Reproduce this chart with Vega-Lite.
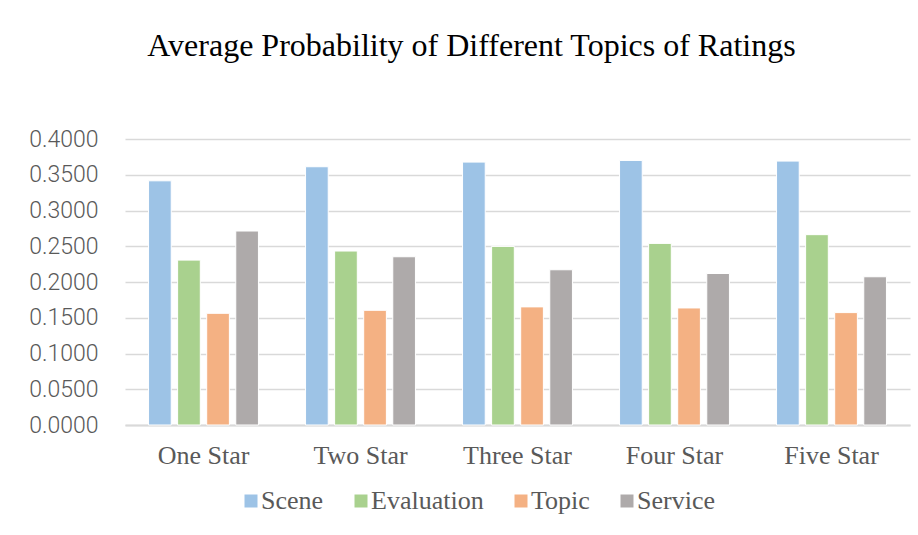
{
  "$schema": "https://vega.github.io/schema/vega-lite/v6.json",
  "autosize": {"type": "none"},
  "padding": {"left": 125, "top": 139, "right": 8, "bottom": 110},
  "width": 785,
  "height": 286,
  "background": "white",
  "title": {
    "text": "Average Probability of Different Topics of Ratings",
    "font": "Liberation Serif",
    "fontSize": 32,
    "fontWeight": "normal",
    "color": "#000000",
    "anchor": "middle",
    "dx": -46,
    "offset": 65
  },
  "data": {
    "values": [
      {"rating": "One Star", "topic": "Scene", "p": 0.3415},
      {"rating": "One Star", "topic": "Evaluation", "p": 0.2306},
      {"rating": "One Star", "topic": "Topic", "p": 0.1562},
      {"rating": "One Star", "topic": "Service", "p": 0.2713},
      {"rating": "Two Star", "topic": "Scene", "p": 0.3612},
      {"rating": "Two Star", "topic": "Evaluation", "p": 0.2433},
      {"rating": "Two Star", "topic": "Topic", "p": 0.1604},
      {"rating": "Two Star", "topic": "Service", "p": 0.2353},
      {"rating": "Three Star", "topic": "Scene", "p": 0.3677},
      {"rating": "Three Star", "topic": "Evaluation", "p": 0.2498},
      {"rating": "Three Star", "topic": "Topic", "p": 0.1652},
      {"rating": "Three Star", "topic": "Service", "p": 0.2171},
      {"rating": "Four Star", "topic": "Scene", "p": 0.3700},
      {"rating": "Four Star", "topic": "Evaluation", "p": 0.2540},
      {"rating": "Four Star", "topic": "Topic", "p": 0.1637},
      {"rating": "Four Star", "topic": "Service", "p": 0.2119},
      {"rating": "Five Star", "topic": "Scene", "p": 0.3691},
      {"rating": "Five Star", "topic": "Evaluation", "p": 0.2662},
      {"rating": "Five Star", "topic": "Topic", "p": 0.1572},
      {"rating": "Five Star", "topic": "Service", "p": 0.2073}
    ]
  },
  "mark": {"type": "bar", "stroke": "white", "strokeWidth": 1},
  "encoding": {
    "x": {
      "field": "rating",
      "type": "nominal",
      "sort": ["One Star", "Two Star", "Three Star", "Four Star", "Five Star"],
      "scale": {"paddingInner": 0.3, "paddingOuter": 0.15},
      "axis": {
        "title": null,
        "labelAngle": 0,
        "labelFont": "Liberation Serif",
        "labelFontSize": 26,
        "labelColor": "#595959",
        "labelPadding": 17,
        "ticks": false,
        "domainColor": "#D9D9D9",
        "domainWidth": 2
      }
    },
    "xOffset": {
      "field": "topic",
      "type": "nominal",
      "sort": ["Scene", "Evaluation", "Topic", "Service"],
      "scale": {"paddingInner": 0.22, "paddingOuter": 0}
    },
    "y": {
      "field": "p",
      "type": "quantitative",
      "scale": {"domain": [0, 0.4]},
      "axis": {
        "title": null,
        "values": [0, 0.05, 0.1, 0.15, 0.2, 0.25, 0.3, 0.35, 0.4],
        "format": ".4f",
        "labelFont": "Roboto",
        "labelFontSize": 23,
        "labelFontWeight": 300,
        "labelColor": "#595959",
        "labelPadding": 27,
        "ticks": false,
        "domain": false,
        "gridColor": "#D9D9D9",
        "gridWidth": 1.5
      }
    },
    "color": {
      "field": "topic",
      "type": "nominal",
      "sort": ["Scene", "Evaluation", "Topic", "Service"],
      "scale": {
        "domain": ["Scene", "Evaluation", "Topic", "Service"],
        "range": ["#9DC3E6", "#A9D18E", "#F4B183", "#AEAAAA"]
      },
      "legend": {
        "title": null,
        "orient": "none",
        "direction": "horizontal",
        "legendX": 113,
        "legendY": 349,
        "symbolType": "square",
        "symbolSize": 169,
        "symbolStrokeWidth": 0,
        "labelFont": "Liberation Serif",
        "labelFontSize": 26,
        "labelColor": "#595959",
        "labelOffset": -3,
        "columnPadding": 24
      }
    }
  },
  "config": {
    "view": {"stroke": null},
    "legend": {"labelFont": "Liberation Serif", "labelFontSize": 26}
  }
}
